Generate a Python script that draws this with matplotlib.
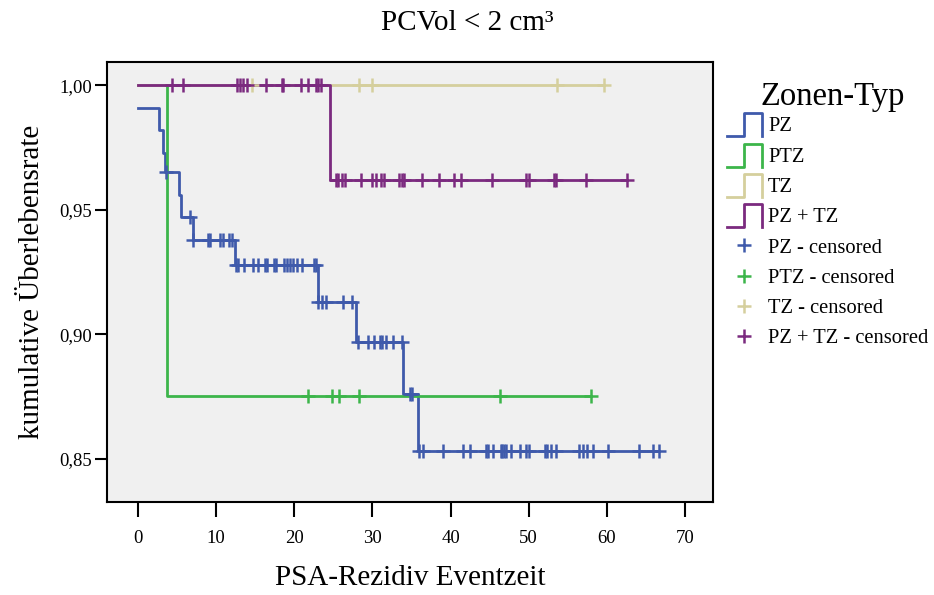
import numpy as np
import matplotlib
matplotlib.use("Agg")
import matplotlib.pyplot as plt
from matplotlib.lines import Line2D
from matplotlib.legend_handler import HandlerBase

plt.rcParams['font.family'] = ['Liberation Serif', 'DejaVu Serif']

# Kaplan-Meier curves (time of step, survival after step)
pz_times = [0, 2.7, 3.2, 3.5, 5.3, 5.5, 7.0, 12.4, 23.0, 27.9, 33.9, 35.8]
pz_surv = [0.991, 0.982, 0.973, 0.965, 0.956, 0.947, 0.938, 0.928, 0.913, 0.897, 0.876, 0.853]
pz_cens = [3.6, 6.6, 7.1, 9.0, 9.2, 10.5, 10.9, 11.7, 12.0, 12.5, 12.8, 13.6, 14.7,
           15.3, 16.3, 16.5, 17.4, 17.6, 18.7, 19.1, 19.4, 19.8, 20.3, 21.0, 22.5,
           22.8, 23.1, 23.6, 24.0, 26.2, 27.4, 28.1, 29.4, 30.2, 31.0, 31.2, 31.7,
           32.7, 33.8, 34.8, 35.1, 36.0, 36.5, 39.0, 41.6, 42.5, 44.6, 44.8, 45.4,
           46.4, 46.6, 46.8, 47.1, 47.8, 48.9, 49.6, 50.0, 52.1, 52.4, 52.8, 53.5,
           56.5, 56.9, 57.5, 58.2, 60.1, 64.1, 65.9, 66.7]

ptz_times = [0, 3.66]
ptz_surv = [1.0, 0.875]
ptz_cens = [21.8, 24.8, 25.7, 28.3, 46.3, 58.0]

tz_times = [0]
tz_surv = [1.0]
tz_cens = [14.6, 28.3, 30.0, 53.6, 59.7]

pztz_times = [0, 24.6]
pztz_surv = [1.0, 0.962]
pztz_cens = [4.4, 5.8, 12.7, 13.1, 13.5, 13.9, 16.4, 18.4, 18.6, 20.9, 21.7, 22.8,
             23.1, 23.4, 25.3, 25.6, 26.1, 26.5, 28.6, 29.9, 30.5, 31.1, 31.5, 33.4,
             33.8, 34.0, 36.3, 38.5, 40.5, 41.4, 45.3, 49.7, 50.1, 53.3, 53.5, 57.4,
             62.6]

groups = ["PZ", "PTZ", "TZ", "PZ + TZ"]
colors = ["#3f5aab", "#3cb54a", "#d5cf9d", "#7b2a7f"]
x_ticks = [0, 10, 20, 30, 40, 50, 60, 70]
y_ticks = [0.85, 0.90, 0.95, 1.00]

curves = [(pz_times, pz_surv, pz_cens), (ptz_times, ptz_surv, ptz_cens),
          (tz_times, tz_surv, tz_cens), (pztz_times, pztz_surv, pztz_cens)]


class StepHandler(HandlerBase):
    # little "_|‾|" icon like in the SPSS legend
    def create_artists(self, legend, orig_handle, xdescent, ydescent,
                       width, height, fontsize, trans):
        x0 = -xdescent
        y0 = -ydescent - 0.35 * height
        h = 1.6 * height
        xs = [x0, x0 + width / 2, x0 + width / 2, x0 + width, x0 + width]
        ys = [y0, y0, y0 + h, y0 + h, y0]
        ln = Line2D(xs, ys, color=orig_handle.get_color(), lw=2.0)
        ln.set_transform(trans)
        return [ln]


fig = plt.figure(figsize=(9.34, 5.95), dpi=100)
ax = fig.add_axes([107 / 934, 1 - 502 / 595, 606 / 934, 440 / 595])
ax.set_facecolor("#f0f0f0")

line_handles = []
cens_handles = []
for (t, s, c), col in zip(curves, colors):
    t = np.asarray(t, float)
    s = np.asarray(s, float)
    c = np.asarray(c, float)
    end = max(c.max(), t.max())
    xs = np.append(t, end)
    ys = np.append(s, s[-1])
    ln, = ax.step(xs, ys, where="post", color=col, lw=2.0, zorder=3)
    line_handles.append(ln)

for (t, s, c), col in zip(curves, colors):
    t = np.asarray(t, float)
    s = np.asarray(s, float)
    c = np.asarray(c, float)
    idx = np.searchsorted(t, c, side="right") - 1
    mk, = ax.plot(c, s[idx], ls="none", marker="+", ms=10, mew=1.8,
                  color=col, zorder=4)
    cens_handles.append(mk)

ax.set_xlim(-3.97, 73.6)
ax.set_ylim(0.8326, 1.0094)
ax.set_xticks(x_ticks)
ax.set_xticklabels([str(v) for v in x_ticks])
ax.set_yticks(y_ticks)
ax.set_yticklabels([f"{v:.2f}".replace(".", ",") for v in y_ticks])
ax.tick_params(axis="both", labelsize=13.5, width=1.5, color="black")
ax.tick_params(axis="x", length=11, pad=9)
ax.tick_params(axis="y", length=9, pad=2)
for sp in ax.spines.values():
    sp.set_linewidth(1.5)

ax.set_xlabel("PSA-Rezidiv Eventzeit", fontsize=21, labelpad=13)
ax.set_ylabel("kumulative Überlebensrate", fontsize=21, labelpad=10)
fig.text(0.5, 1 - 23 / 595, "PCVol < 2 cm³", fontsize=21, ha="center", va="center")

# legend title drawn on its own so the gap to the first entry matches
fig.text(833 / 934, 1 - 97 / 595, "Zonen-Typ", fontsize=23.5, ha="center", va="center")
labels = groups + [g + " - censored" for g in groups]
handler_map = {h: StepHandler() for h in line_handles}
leg = fig.legend(line_handles + cens_handles, labels, handler_map=handler_map,
                 loc="upper left", bbox_to_anchor=(727 / 934, 1 - 117 / 595),
                 frameon=False, fontsize=14.8,
                 handlelength=1.7, handletextpad=0.3,
                 labelspacing=0.53, borderpad=0, borderaxespad=0)

fig.savefig("out.png", dpi=100)
